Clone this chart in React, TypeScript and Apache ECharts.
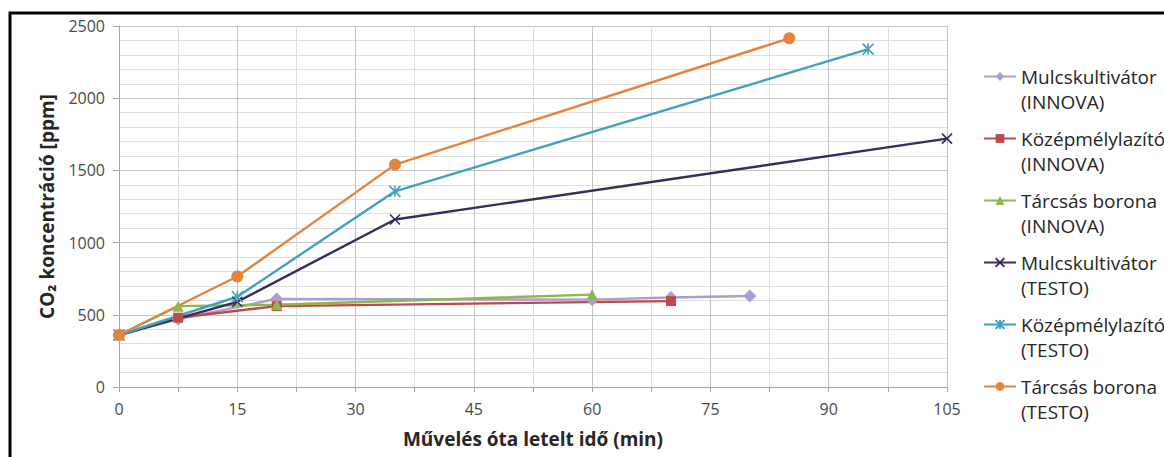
import React, { useEffect, useRef } from "react";
import * as echarts from "echarts";

const seriesNames = [
  "Mulcskultivátor\n(INNOVA)",
  "Középmélylazító\n(INNOVA)",
  "Tárcsás borona\n(INNOVA)",
  "Mulcskultivátor\n(TESTO)",
  "Középmélylazító\n(TESTO)",
  "Tárcsás borona\n(TESTO)",
];

const mulcsInnovaTime = [0, 7.5, 20, 60, 70, 80];
const mulcsInnovaPpm = [360, 470, 610, 605, 620, 630];
const kozepInnovaTime = [0, 7.5, 20, 70];
const kozepInnovaPpm = [360, 480, 560, 595];
const tarcsasInnovaTime = [0, 7.5, 20, 60];
const tarcsasInnovaPpm = [360, 560, 570, 640];
const mulcsTestoTime = [0, 15, 35, 105];
const mulcsTestoPpm = [360, 590, 1160, 1720];
const kozepTestoTime = [0, 15, 35, 95];
const kozepTestoPpm = [360, 625, 1355, 2340];
const tarcsasTestoTime = [0, 15, 35, 85];
const tarcsasTestoPpm = [360, 765, 1540, 2415];

const xAxisTitle = "Művelés óta letelt idő (min)";
const yAxisTitle = "CO₂ koncentráció [ppm]";

const xPath = "path://M0,0L10,10M10,0L0,10";
const starPath = "path://M0,0L10,10M10,0L0,10M5,0L5,10";

export default function App() {
  const ref = useRef<HTMLDivElement>(null);
  useEffect(() => {
    const chart = echarts.init(ref.current!, null, { renderer: "svg" });
    const font = "'Open Sans', Lato, sans-serif";
    const mk = (
      name: string,
      times: number[],
      vals: number[],
      color: string,
      symbol: string,
      size: number,
      stroked = false
    ) => ({
      name,
      type: "line",
      data: times.map((t, i) => [t, vals[i]]),
      symbol,
      symbolSize: size,
      showSymbol: true,
      lineStyle: { color, width: 2.4 },
      itemStyle: stroked
        ? { color, borderColor: color, borderWidth: 1.6 }
        : { color },
    });
    chart.setOption({
      animation: false,
      textStyle: { fontFamily: font },
      grid: { left: 119, right: 217, top: 26, bottom: 70 },
      graphic: [
        {
          type: "rect",
          shape: { x: 10, y: 13, width: 1170, height: 470 },
          style: { fill: "none", stroke: "#000", lineWidth: 3 },
          silent: true,
        },
      ],
      xAxis: {
        type: "value",
        min: 0,
        max: 105,
        interval: 15,
        name: xAxisTitle,
        nameLocation: "middle",
        nameGap: 42,
        nameTextStyle: { fontFamily: font, fontSize: 19, fontWeight: "bold", color: "#262626" },
        axisLine: { show: true, lineStyle: { color: "#a6a6a6", width: 1 } },
        axisTick: { show: true, length: 5, lineStyle: { color: "#a6a6a6" } },
        minorTick: { show: true, splitNumber: 2, length: 5, lineStyle: { color: "#a6a6a6" } },
        axisLabel: { fontFamily: font, fontSize: 16, color: "#4a4a4a", margin: 14 },
        splitLine: { show: true, lineStyle: { color: "#c3c3c3", width: 1 } },
        minorSplitLine: { show: true, lineStyle: { color: "#dedede", width: 1 } },
      },
      yAxis: {
        type: "value",
        min: 0,
        max: 2500,
        interval: 500,
        name: yAxisTitle,
        nameLocation: "middle",
        nameGap: 63,
        nameTextStyle: { fontFamily: font, fontSize: 19, fontWeight: "bold", color: "#262626" },
        axisLine: { show: true, lineStyle: { color: "#a6a6a6", width: 1 } },
        axisTick: { show: true, length: 6, lineStyle: { color: "#a6a6a6" } },
        minorTick: { show: false, splitNumber: 5 },
        axisLabel: {
          fontFamily: font,
          fontSize: 16,
          color: "#4a4a4a",
          margin: 14,
          formatter: (v: number) => String(v),
        },
        splitLine: { show: true, lineStyle: { color: "#c3c3c3", width: 1 } },
        minorSplitLine: { show: true, lineStyle: { color: "#dedede", width: 1 } },
      },
      legend: {
        orient: "vertical",
        left: 983,
        top: 39,
        padding: 0,
        itemGap: -13,
        itemWidth: 32,
        itemHeight: 11,
        formatter: (name: string) => "\n" + name,
        textStyle: {
          fontFamily: font,
          fontSize: 19,
          color: "#262626",
          lineHeight: 25,
        },
        data: seriesNames,
      },
      series: [
        mk(seriesNames[0], mulcsInnovaTime, mulcsInnovaPpm, "#ab9dd0", "diamond", 13),
        mk(seriesNames[1], kozepInnovaTime, kozepInnovaPpm, "#be4b48", "rect", 10),
        mk(seriesNames[2], tarcsasInnovaTime, tarcsasInnovaPpm, "#8fb74d", "triangle", 11),
        mk(seriesNames[3], mulcsTestoTime, mulcsTestoPpm, "#3c2a5a", xPath, 10, true),
        mk(seriesNames[4], kozepTestoTime, kozepTestoPpm, "#42a2bb", starPath, 11, true),
        mk(seriesNames[5], tarcsasTestoTime, tarcsasTestoPpm, "#e4843c", "circle", 12),
      ],
    });
    return () => chart.dispose();
  }, []);
  return (
    <div
      ref={ref}
      style={{ position: "fixed", left: 0, top: 0, width: 1164, height: 457, background: "#fff" }}
    />
  );
}
